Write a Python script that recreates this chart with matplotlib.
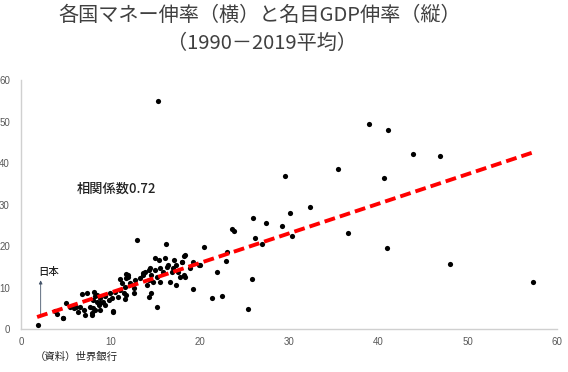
import numpy as np
import matplotlib
matplotlib.use("Agg")
import matplotlib.pyplot as plt

plt.rcParams['font.family'] = ['Noto Sans CJK JP', 'DejaVu Sans']

# データ(横:マネー伸率, 縦:名目GDP伸率, %)
money_growth = [
    1.9, 4.7, 3.8, 4.0, 5.0, 5.5, 5.9, 6.2, 6.6, 7.0, 6.4, 7.2, 6.8, 7.4,
    7.7, 8.1, 8.5, 8.8, 7.9, 8.3, 8.2, 8.3, 8.8, 9.4, 8.5, 9.2, 8.7, 8.1,
    8.8, 9.4, 10.3, 10.0, 10.5, 11.1, 11.3, 11.6, 11.8, 12.0, 12.2, 12.6,
    11.5, 10.9, 11.6, 12.6, 9.8, 10.2, 11.8, 11.1, 11.8, 12.0, 13.0, 13.7,
    14.3, 8.0, 10.3, 4.7, 15.0, 15.4, 16.1, 17.1, 18.2, 18.0, 17.3, 16.5,
    15.6, 15.0, 14.4, 13.9, 13.7, 14.6, 15.2, 15.9, 16.9, 17.6, 18.2, 18.9,
    19.3, 19.9, 14.3, 14.8, 15.6, 14.1, 16.7, 17.3, 17.8, 18.4, 14.6, 14.3,
    15.2, 19.3, 16.2, 20.5, 18.4, 18.0, 12.8, 13.3, 16.3, 17.0,
    20.0, 21.9, 21.4, 22.5, 22.9, 23.1, 23.6, 23.8, 25.4, 25.9, 26.0,
    26.2, 27.0, 27.4, 29.2, 30.3, 30.1, 32.3, 29.5, 35.5, 36.6, 40.6,
    41.0, 39.0, 41.1, 43.9, 46.9, 48.0, 57.3, 15.3,
]
gdp_growth = [
    1.0, 2.6, 4.4, 3.6, 6.2, 5.4, 5.0, 5.4, 5.2, 4.7, 4.2, 3.4, 8.4, 8.7,
    5.4, 7.0, 8.2, 6.2, 3.8, 4.6, 9.0, 7.9, 7.4, 7.9, 6.6, 6.6, 5.8, 5.0,
    4.6, 5.8, 4.2, 8.6, 9.0, 9.4, 11.0, 10.2, 12.2, 13.0, 11.0, 9.8,
    8.6, 7.8, 7.2, 8.6, 7.0, 7.4, 8.2, 12.0, 13.3, 12.6, 21.4, 13.4,
    14.2, 3.4, 4.3, 2.6, 17.0, 16.6, 17.0, 16.6, 17.7, 16.2, 15.4, 15.4,
    14.6, 14.2, 14.6, 13.8, 13.0, 13.0, 12.6, 13.8, 13.8, 13.8, 13.0, 14.6,
    16.2, 15.4, 11.8, 11.4, 11.4, 10.6, 11.4, 10.6, 12.6, 12.6, 8.6, 7.8,
    5.4, 9.6, 20.4, 19.8, 17.8, 16.2, 11.8, 12.4, 15.0, 14.8,
    15.4, 13.8, 7.4, 7.9, 16.4, 18.6, 24.2, 23.7, 4.8, 12.0, 26.7,
    21.9, 20.5, 25.5, 24.8, 22.4, 27.9, 29.4, 36.9, 38.5, 23.1, 36.4,
    19.5, 49.4, 48.0, 42.2, 41.7, 15.7, 11.3, 55.0,
]
japan = (1.9, 1.0)
corr_text = "相関係数0.72"
trend_slope = 0.715
trend_intercept = 1.6

fig = plt.figure(figsize=(5.68, 3.72), dpi=100)
ax = fig.add_axes([0.037, 0.1156, 0.9437, 0.669])

ax.scatter(money_growth, gdp_growth, s=14, color="black", zorder=3, linewidths=0)

xs = np.array([min(money_growth) - 0.1, max(money_growth)])
ax.plot(xs, trend_intercept + trend_slope * xs, color="#ff0000", lw=2.8,
        linestyle=(0, (2.8, 1.3)), zorder=4)

ax.set_xlim(0, 60)
ax.set_ylim(0, 60)
ax.set_xticks(range(0, 61, 10))
ax.set_yticks(range(0, 61, 10))
ax.tick_params(length=0, labelsize=7, labelcolor="#595959")
ax.tick_params(axis="y", pad=8)
ax.tick_params(axis="x", pad=6)
for lab in ax.get_xticklabels() + ax.get_yticklabels():
    lab.set_family("Liberation Sans")
for s in ["top", "right"]:
    ax.spines[s].set_visible(False)
for s in ["left", "bottom"]:
    ax.spines[s].set_color("#d0d0d0")
    ax.spines[s].set_linewidth(1.0)

ax.text(6.2, 33.9, corr_text, fontsize=9.5, va="center", ha="left",
        color="#222222", weight="medium")
ax.text(japan[0], 13.7, "日本", fontsize=7.5, va="center", ha="left",
        color="#222222", weight="medium")
ax.annotate("", xy=(japan[0] + 0.3, 12.4), xytext=(japan[0] + 0.3, 3.0),
            arrowprops=dict(arrowstyle="-|>", color="#44546A", lw=0.6,
                            mutation_scale=5))

fig.text(0.458, 0.958, "各国マネー伸率（横）と名目GDP伸率（縦）", fontsize=14.5,
         ha="center", va="center", color="#404040")
fig.text(0.462, 0.884, "（1990－2019平均）", fontsize=14.5,
         ha="center", va="center", color="#404040")
fig.text(0.062, 0.04, "（資料）世界銀行", fontsize=7.5, ha="left", va="center",
         color="#222222")

fig.savefig("out.png", dpi=100)
